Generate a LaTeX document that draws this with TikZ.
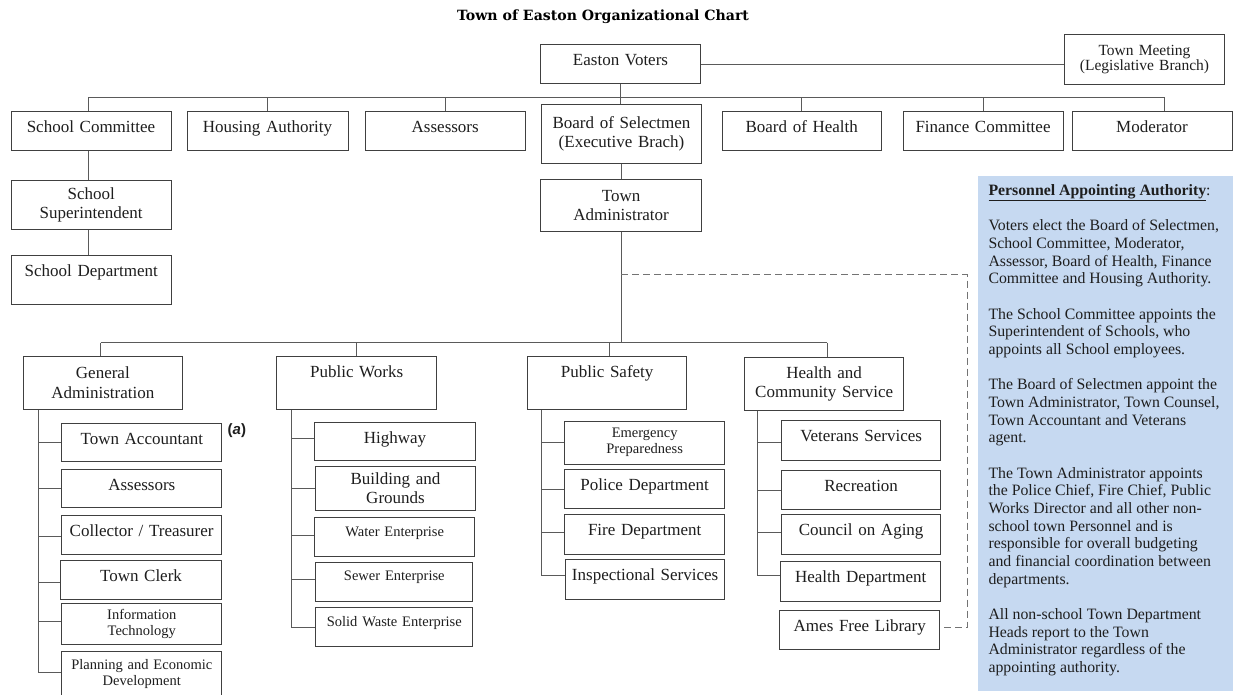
\documentclass[tikz,border=0pt]{standalone}
\usepackage{fontspec}
\usepackage{graphicx}
\setmainfont{Liberation Serif}
\newfontfamily\titlefont{DejaVu Serif}
\newfontfamily\labfont{Liberation Sans}
\definecolor{panelblue}{HTML}{C6D9F1}
\definecolor{linegray}{HTML}{5A5A5A}
\definecolor{boxgray}{HTML}{404040}
\definecolor{txt}{HTML}{1E1E1E}
\newcommand\orgbranch[3]{\draw[conn] ([yshift=#3pt]#2.west -| #1) -- ([yshift=#3pt]#2.west);}
\begin{document}
\begin{tikzpicture}[x=1pt,y=-1pt,
  box/.style={draw=boxgray, line width=1pt, inner sep=0pt, align=center, text=txt, anchor=north west, font=\fontsize{17}{19.5}\selectfont},
  sbox/.style={box, font=\fontsize{14.5}{16}\selectfont},
  conn/.style={draw=linegray, line width=1pt},
  dashconn/.style={draw=linegray!85, line width=1pt, dash pattern=on 7pt off 4pt},
]
\clip (0,0) rectangle (1233,694);
\fill[white] (0,0) rectangle (1233,694);

% title
\node[inner sep=0pt] (title) at (603,17) {\resizebox{292pt}{!}{\titlefont\bfseries Town of Easton Organizational Chart}};

% row 0
\node[box, text width=160pt, text height=21pt, text depth=18pt] (voters) at (540,44) {Easton Voters};
\node[box, font=\fontsize{15.5}{15.5}\selectfont, text width=160pt, minimum height=50pt] (meeting) at (1064,34) {Town Meeting\\(Legislative Branch)};

% row 1
\node[box, text width=160pt, text height=21pt, text depth=18pt] (sc) at (10.5,111) {School Committee};
\node[box, text width=161pt, text height=21pt, text depth=18pt] (ha) at (186.5,111) {Housing Authority};
\node[box, text width=159.5pt, text height=21pt, text depth=18pt] (as) at (365,111) {Assessors};
\node[box, text width=160pt, minimum height=59pt] (bos) at (541,104) {Board of Selectmen\\(Executive Brach)};
\node[box, text width=159.5pt, text height=21pt, text depth=18pt] (boh) at (721.5,111) {Board of Health};
\node[box, text width=160pt, text height=21pt, text depth=18pt] (fc) at (902.5,111) {Finance Committee};
\node[box, text width=160pt, text height=21pt, text depth=18pt] (mod) at (1071.5,111) {Moderator};

% row 2
\node[box, text width=160pt, minimum height=49.3pt] (ss) at (10.7,180) {School\\Superintendent};
\node[box, text width=160pt, text height=21pt, text depth=28pt] (sd) at (10.7,255.3) {School Department};
\node[box, text width=160.7pt, minimum height=51.4pt] (ta) at (540.3,179.3) {Town\\Administrator};

% row 3
\node[box, text width=159.7pt, minimum height=53.3pt] (ga) at (22.5,355.7) {General\\Administration};
\node[box, text width=159.7pt, text height=21pt, text depth=32.3pt] (pw) at (276.3,355.7) {Public Works};
\node[box, text width=159.3pt, text height=21pt, text depth=32.3pt] (ps) at (527,355.7) {Public Safety};
\node[box, text width=159.3pt, minimum height=53pt] (hcs) at (744,356.7) {Health and\\Community Service};

% general administration column
\node[box, text width=160pt, text height=21pt, text depth=17pt] (ta1) at (61.3,423.3) {Town Accountant};
\node[box, text width=160pt, text height=21pt, text depth=17pt] (as2) at (61.3,469) {Assessors};
\node[box, text width=159.7pt, text height=21pt, text depth=18.6pt] (ct) at (61.3,514.7) {Collector / Treasurer};
\node[box, text width=160.4pt, text height=21pt, text depth=18.3pt] (tc) at (60.3,559.7) {Town Clerk};
\node[sbox, text width=160pt, minimum height=41pt] (it) at (61.3,603.3) {Information\\Technology};
\node[sbox, text width=160pt, minimum height=45.5pt] (ped) at (61.3,650.7) {Planning and Economic\\Development};
\node[inner sep=0pt, anchor=west, text=txt, font=\labfont\bfseries\fontsize{15}{15}\selectfont] (alabel) at (227.5,430.7) {(\textit{a})};

% public works column
\node[box, text width=160.4pt, text height=21pt, text depth=17.6pt] (hw) at (314.3,421.7) {Highway};
\node[box, text width=159.4pt, minimum height=44.3pt] (bg) at (315.3,465.7) {Building and\\Grounds};
\node[sbox, text width=159.7pt, text height=18.5pt, text depth=20.2pt] (we) at (314.3,517.3) {Water Enterprise};
\node[sbox, text width=157pt, text height=18pt, text depth=20.7pt] (se) at (315.3,562) {Sewer Enterprise};
\node[sbox, text width=157pt, text height=18.8pt, text depth=20.2pt] (sw) at (315.3,607.3) {Solid Waste Enterprise};

% public safety column
\node[sbox, text width=160.3pt, minimum height=43pt] (ep) at (564,420.7) {Emergency\\Preparedness};
\node[box, text width=160.3pt, text height=21pt, text depth=18.3pt] (pd) at (564,469) {Police Department};
\node[box, text width=160.3pt, text height=21pt, text depth=19pt] (fd) at (564,514.3) {Fire Department};
\node[box, text width=159.3pt, text height=21pt, text depth=18.7pt] (is) at (565,559.3) {Inspectional Services};

% health and community service column
\node[box, text width=159.3pt, text height=21pt, text depth=18.7pt] (vs) at (781,420) {Veterans Services};
\node[box, text width=159.3pt, text height=21pt, text depth=18.6pt] (rc) at (781,469.7) {Recreation};
\node[box, text width=159.3pt, text height=21pt, text depth=19pt] (coa) at (781,514.3) {Council on Aging};
\node[box, text width=160.3pt, text height=21pt, text depth=18.7pt] (hd) at (780,561) {Health Department};
\node[box, text width=160pt, text height=21pt, text depth=18.3pt] (afl) at (779.3,610) {Ames Free Library};

% info panel
\node[fill=panelblue, inner sep=0pt, minimum width=255.5pt, minimum height=514.7pt, anchor=north west] (panel) at (977.5,176) {};
\node[anchor=base west, inner sep=0pt, text=txt] (ptext) at (988.3,195.4) {\parbox[t]{245pt}{\raggedright\fontsize{15.8}{17.67}\selectfont
\underline{\textbf{Personnel Appointing Authority}}:\\[17.67pt]
Voters elect the Board of Selectmen,\\
School Committee, Moderator,\\
Assessor, Board of Health, Finance\\
Committee and Housing Authority.\\[17.67pt]
The School Committee appoints the\\
Superintendent of Schools, who\\
appoints all School employees.\\[17.67pt]
The Board of Selectmen appoint the\\
Town Administrator, Town Counsel,\\
Town Accountant and Veterans\\
agent.\\[17.67pt]
The Town Administrator appoints\\
the Police Chief, Fire Chief, Public\\
Works Director and all other non-\\
school town Personnel and is\\
responsible for overall budgeting\\
and financial coordination between\\
departments.\\[17.67pt]
All non-school Town Department\\
Heads report to the Town\\
Administrator regardless of the\\
appointing authority.}};

% connectors: top
\coordinate (busL) at (88.5,97);
\coordinate (busR) at (1164.5,97);
\draw[conn] (voters.east) -- (voters.east -| meeting.west);
\draw[conn] (busL) -- (busR);
\draw[conn] (voters.south) -- (voters.south |- bos.north);
\draw[conn] (busL) -- (busL |- sc.north);
\draw[conn] (ha.north |- busL) -- (ha.north);
\draw[conn] (as.north |- busL) -- (as.north);
\draw[conn] (boh.north |- busL) -- (boh.north);
\draw[conn] (fc.north |- busL) -- (fc.north);
\draw[conn] (busR) -- (busR |- mod.north);

% school chain
\draw[conn] (sc.south -| busL) -- (ss.north -| busL);
\draw[conn] (ss.south -| busL) -- (sd.north -| busL);

% executive chain
\draw[conn] (ta.north |- bos.south) -- (ta.north);
\coordinate (dbL) at (100.8,342.7);
\coordinate (dbR) at (827,342.7);
\draw[conn] (ta.south) -- (ta.south |- dbL);
\draw[conn] (dbL) -- (dbR);
\draw[conn] (dbL) -- (dbL |- ga.north);
\draw[conn] (pw.north |- dbL) -- (pw.north);
\draw[conn] ([xshift=2pt]ps.north |- dbL) -- ([xshift=2pt]ps.north);
\draw[conn] (dbR) -- (dbR |- hcs.north);

% dashed link to library
\coordinate (dTop) at (967.3,274.7);
\draw[dashconn] (dTop -| ta.south) -- (dTop) |- ([yshift=3pt]afl.east);

% spines and branches
\coordinate (gx) at (38.7,0);
\coordinate (px) at (291.3,0);
\coordinate (sx) at (541.3,0);
\coordinate (hx) at (757.3,0);
\draw[conn] (ga.south -| gx) |- ([yshift=1.7pt]ped.west);
\orgbranch{gx}{ta1}{0}
\orgbranch{gx}{as2}{0}
\orgbranch{gx}{ct}{-1.2}
\orgbranch{gx}{tc}{-3}
\orgbranch{gx}{it}{2.8}
\draw[conn] (pw.south -| px) |- (sw.west);
\orgbranch{px}{hw}{2.7}
\orgbranch{px}{bg}{0}
\orgbranch{px}{we}{2}
\orgbranch{px}{se}{2.7}
\draw[conn] (ps.south -| sx) |- ([yshift=4.2pt]is.west);
\orgbranch{sx}{ep}{0}
\orgbranch{sx}{pd}{0}
\orgbranch{sx}{fd}{2.6}
\draw[conn] (hcs.south -| hx) |- ([yshift=5.9pt]hd.west);
\orgbranch{hx}{vs}{-2.2}
\orgbranch{hx}{rc}{0}
\orgbranch{hx}{coa}{2.6}
\end{tikzpicture}
\end{document}
